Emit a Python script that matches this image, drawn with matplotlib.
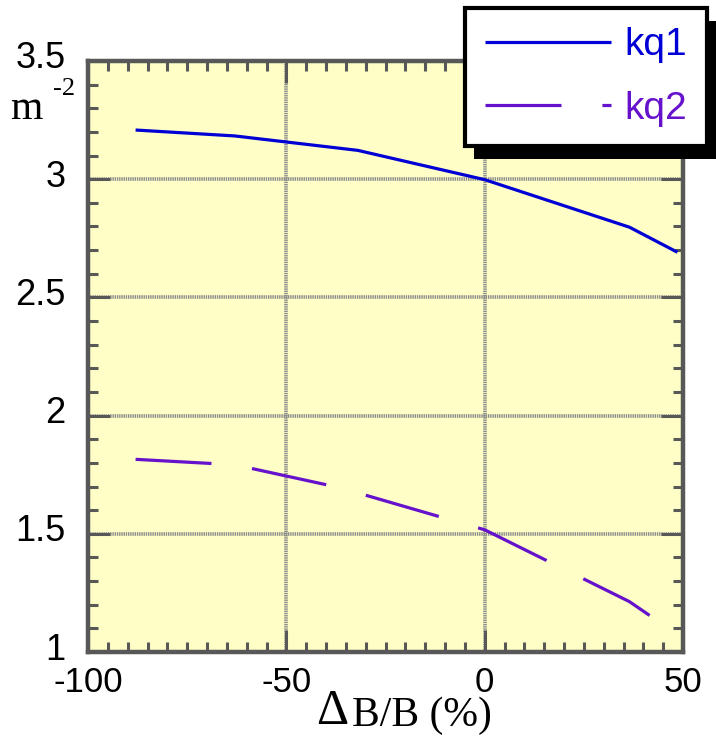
import matplotlib
matplotlib.use('Agg')
import matplotlib.pyplot as plt
import matplotlib.transforms as mtransforms
from matplotlib.patches import Rectangle
from matplotlib.ticker import MultipleLocator

plt.rcParams['font.family'] = ['Liberation Sans', 'DejaVu Sans']
plt.rcParams['lines.scale_dashes'] = False
plt.rcParams['axes.unicode_minus'] = False

# values
x_kq1 = [-88, -63, -32, 0, 36.5, 48.6]
y_kq1 = [3.208, 3.183, 3.122, 2.998, 2.797, 2.691]

x_kq2 = [-88, -63, -36.5, 0, 36.5, 43.2]
y_kq2 = [1.815, 1.792, 1.695, 1.517, 1.213, 1.136]

xticks = [-100, -50, 0, 50]
yticks = [1, 1.5, 2, 2.5, 3, 3.5]
yticklabels = ['1', '1.5', '2', '2.5', '3', '3.5']

c1 = '#0000d6'
c2 = '#6611cc'
frame = '#585858'

fig = plt.figure(figsize=(7.16, 7.36), dpi=100)
ax = fig.add_axes([88/716, 1 - 652/736, (683 - 88)/716, (652 - 61)/736])
ax.set_facecolor('#fefec6')

ax.plot(x_kq1, y_kq1, color=c1, lw=2.3, label='kq1', solid_capstyle='butt')
ax.plot(x_kq2, y_kq2, color=c2, lw=2.3, label='kq2',
        dashes=(54.7, 29.5), dash_capstyle='butt')

ax.set_xlim(-100, 50)
ax.set_ylim(1, 3.5)
ax.set_xticks(xticks)
ax.set_yticks(yticks)
ax.set_yticklabels(yticklabels)
ax.xaxis.set_minor_locator(MultipleLocator(5))
ax.yaxis.set_minor_locator(MultipleLocator(0.1))

ax.tick_params(which='both', direction='in', top=True, right=True,
               color=frame, width=2.2, labelsize=25)
ax.tick_params(axis='y', labelsize=26)
ax.tick_params(which='major', length=16)
ax.tick_params(which='minor', length=7)
ax.tick_params(axis='x', which='major', pad=10)
ax.tick_params(axis='y', which='major', pad=16)

ax.grid(True, which='major', color='#8c8c8c', lw=2.6, linestyle=(0, (1, 0.6)))
for sp in ax.spines.values():
    sp.set_color(frame)
    sp.set_linewidth(3.2)

# axis labels
fig.text(10/716, 1 - 119/736, 'm', family='Liberation Serif', fontsize=30)
fig.text(53/716, 1 - 95/736, '-2', family='Liberation Serif', fontsize=19)
fig.text(316/716, 1 - 724/736, 'Δ', family='Liberation Serif', fontsize=36)
fig.text(352/716, 1 - 726/736, 'B/B (%)', family='Liberation Serif', fontsize=30)

handles, labels = ax.get_legend_handles_labels()
leg = fig.legend(handles, labels, loc='upper right',
                 bbox_to_anchor=(707/716, 1 - 8/736), borderaxespad=0,
                 fontsize=28, labelcolor='linecolor', handlelength=3.25,
                 handletextpad=0.35, labelspacing=0.7, borderpad=0.5,
                 fancybox=False, framealpha=1)
leg.get_frame().set_edgecolor('black')
leg.get_frame().set_linewidth(3)
leg.set_zorder(10)

fig.canvas.draw()
for lab in ax.get_yticklabels():
    lab.set_transform(lab.get_transform() +
                      mtransforms.ScaledTranslation(0, 6/100, fig.dpi_scale_trans))

bb = leg.get_window_extent()
shadow = Rectangle((bb.x0 + 9, bb.y0 - 13), bb.width, bb.height,
                   transform=mtransforms.IdentityTransform(),
                   facecolor='black', edgecolor='none', zorder=9)
fig.add_artist(shadow)

fig.savefig('out.png', dpi=100)
